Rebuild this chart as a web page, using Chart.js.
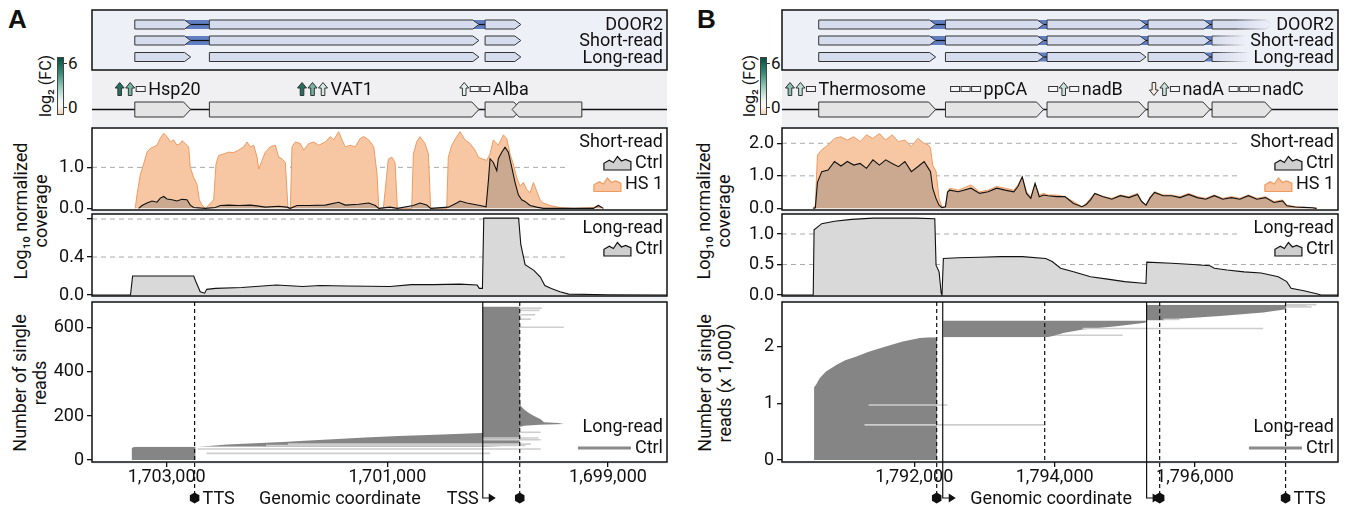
<!DOCTYPE html>
<html>
<head>
<meta charset="utf-8">
<title>Read coverage at two loci</title>
<script src="https://cdn.jsdelivr.net/npm/chart.js@4.4.1/dist/chart.umd.min.js"></script>
<style>
  body { margin: 0; background: #fff; }
  #fig { position: relative; width: 1350px; height: 510px; overflow: hidden; font-family: Roboto, "Liberation Sans", sans-serif; color: #111; }
  #fig canvas { position: absolute; }
  .letter { position: absolute; font: bold 26px "Liberation Sans", Arial, sans-serif; }
  .vt { position: absolute; width: 200px; height: 40px; transform: rotate(-90deg); text-align: center; font-size: 18px; line-height: 20px; white-space: nowrap; }
  .bg { position: absolute; top: 124px; height: 340px; background: #eef0f4; }
  .cbar { position: absolute; top: 57px; width: 7px; height: 58px; border: 1px solid #444; box-sizing: border-box; }
  .ct { position: absolute; font-size: 17px; line-height: 17px; }
  .tk { position: absolute; width: 3px; height: 1px; background: #333; }
  .cl { position: absolute; width: 80px; height: 20px; top: 76px; transform: rotate(-90deg); text-align: center; font-size: 16px; line-height: 20px; }
</style>
</head>
<body>
<div id="fig">
  <div class="bg" style="left:92px;width:575px"></div>
  <div class="bg" style="left:782px;width:556px"></div>

  <div class="letter" style="left:8px;top:4px">A</div>
  <div class="letter" style="left:697px;top:4px">B</div>

  <div class="cl" style="left:6px">log₂ (FC)</div>
  <div class="cbar" style="left:57px"></div>
  <div class="tk" style="left:64px;top:63px"></div>
  <div class="tk" style="left:64px;top:107px"></div>
  <div class="ct" style="left:68px;top:55px">6</div>
  <div class="ct" style="left:68px;top:99px">0</div>

  <div class="cl" style="left:710px">log₂ (FC)</div>
  <div class="cbar" style="left:760px"></div>
  <div class="tk" style="left:767px;top:63px"></div>
  <div class="tk" style="left:767px;top:107px"></div>
  <div class="ct" style="left:771px;top:55px">6</div>
  <div class="ct" style="left:771px;top:99px">0</div>

  <div class="vt" style="left:-69px;top:191px">Log₁₀ normalized<br>coverage</div>
  <div class="vt" style="left:-70px;top:363px">Number of single<br>reads</div>
  <div class="vt" style="left:614px;top:191px">Log₁₀ normalized<br>coverage</div>
  <div class="vt" style="left:615px;top:363px">Number of single<br>reads (x 1,000)</div>

  <canvas id="aAnn" width="680" height="128" style="left:0;top:0"></canvas>
  <canvas id="aShort" width="680" height="106" style="left:0;top:118px"></canvas>
  <canvas id="aLong" width="680" height="104" style="left:0;top:204px"></canvas>
  <canvas id="aReads" width="680" height="218" style="left:0;top:292px"></canvas>

  <canvas id="bAnn" width="670" height="128" style="left:680px;top:0"></canvas>
  <canvas id="bShort" width="670" height="106" style="left:680px;top:118px"></canvas>
  <canvas id="bLong" width="670" height="104" style="left:680px;top:204px"></canvas>
  <canvas id="bReads" width="670" height="218" style="left:680px;top:292px"></canvas>
</div>

<script>
// ---------- panel A (axis runs right to left), coordinates in kb ----------
const aRange = [1703.677, 1698.465];
const aXTicks = [1703, 1701, 1699];
const aShortTicks = [0, 1];
const aLongTicks = [0, 0.4, 0.8];
const aReadTicks = [0, 200, 400, 600];

const aGeneStart = [1703.289, 1702.613, 1700.114, 1699.237];
const aGeneEnd = [1702.783, 1700.170, 1699.790, 1699.869];
const aRowNames = ['DOOR2', 'Short-read', 'Long-read'];
const aRowGenes = [[0, 1, 2], [0, 1, 2], [0, 1, 2]];
const aRowLinks = [[[0, 1], [1, 2]], [[0, 1]], []];
const aLabels = ['Hsp20', 'VAT1', 'Alba'];
const aLabelAt = [1703.467, 1701.814, 1700.344];
const aFC = [[5.6, 3.4, null], [5.6, 3.4, 1.4], [1.0, null, null]];

const aShortHSX = [1703.285, 1703.269, 1703.239, 1703.209, 1703.179, 1703.149, 1703.118, 1703.088, 1703.058, 1703.027,
  1702.997, 1702.967, 1702.937, 1702.907, 1702.877, 1702.861, 1702.831, 1702.801, 1702.786, 1702.755,
  1702.725, 1702.704, 1702.680, 1702.650, 1702.619, 1702.574, 1702.553, 1702.529, 1702.483, 1702.438,
  1702.393, 1702.347, 1702.302, 1702.272, 1702.242, 1702.211, 1702.181, 1702.166, 1702.136, 1702.106,
  1702.061, 1702.015, 1701.985, 1701.955, 1701.925, 1701.900, 1701.879, 1701.864, 1701.834, 1701.789,
  1701.758, 1701.713, 1701.667, 1701.622, 1701.562, 1701.517, 1701.486, 1701.441, 1701.411, 1701.381,
  1701.335, 1701.290, 1701.245, 1701.214, 1701.169, 1701.123, 1701.093, 1701.078, 1701.036, 1700.991,
  1700.960, 1700.930, 1700.909, 1700.779, 1700.764, 1700.734, 1700.704, 1700.658, 1700.628, 1700.607,
  1700.462, 1700.447, 1700.416, 1700.371, 1700.341, 1700.296, 1700.250, 1700.205, 1700.175, 1700.144,
  1700.099, 1700.069, 1700.039, 1699.994, 1699.948, 1699.918, 1699.888, 1699.858, 1699.827, 1699.797,
  1699.767, 1699.736, 1699.706, 1699.676, 1699.646, 1699.616, 1699.586, 1699.525, 1699.434, 1699.314,
  1699.132, 1699.087, 1699.042];
const aShortHS = [0, 0.33, 0.83, 1.08, 1.37, 1.46, 1.5, 1.54, 1.71, 1.83,
  1.75, 1.62, 1.67, 1.54, 1.58, 1.65, 1.58, 1.5, 1.0, 0.75,
  0.58, 0.21, 0.08, 0, 0.08, 0.21, 1.08, 1.29, 1.33, 1.37,
  1.36, 1.42, 1.5, 1.62, 1.5, 1.54, 1.25, 0.96, 1.17, 1.37,
  1.5, 1.54, 1.25, 1.21, 1.12, 0, 0, 1.5, 1.62, 1.58,
  1.42, 1.58, 1.62, 1.54, 1.62, 1.75, 1.67, 1.87, 1.67, 1.5,
  1.54, 1.5, 1.71, 1.75, 1.67, 1.5, 0.83, 0, 0, 1.2,
  1.25, 1.12, 0, 0, 1.33, 1.62, 1.75, 1.58, 1.33, 0,
  0, 1.25, 1.54, 1.75, 1.87, 1.67, 1.58, 1.42, 1.25, 1.21,
  1.17, 1.33, 1.67, 1.54, 1.79, 1.71, 1.33, 1.08, 0.75, 0.54,
  0.63, 0.46, 0.38, 0.63, 0.42, 0.21, 0.13, 0.07, 0.02, 0,
  0.02, 0.08, 0];
const aShortCtrlX = [1703.254, 1703.224, 1703.179, 1703.133, 1703.088, 1703.058, 1703.027, 1702.997, 1702.952, 1702.907,
  1702.861, 1702.816, 1702.786, 1702.755, 1702.650, 1702.559, 1702.514, 1702.438, 1702.347, 1702.242,
  1702.181, 1702.106, 1701.985, 1701.909, 1701.879, 1701.819, 1701.713, 1701.562, 1701.441, 1701.381,
  1701.259, 1701.169, 1701.109, 1701.078, 1700.976, 1700.909, 1700.764, 1700.704, 1700.643, 1700.607,
  1700.447, 1700.371, 1700.341, 1700.280, 1700.220, 1700.160, 1700.105, 1700.084, 1700.069, 1700.039,
  1700.008, 1699.994, 1699.963, 1699.933, 1699.903, 1699.872, 1699.842, 1699.812, 1699.782, 1699.752,
  1699.706, 1699.646, 1699.586, 1699.132, 1699.087, 1699.042];
const aShortCtrl = [0, 0.07, 0.13, 0.18, 0.15, 0.25, 0.29, 0.23, 0.21, 0.18,
  0.22, 0.21, 0.08, 0.02, 0, 0.02, 0.07, 0.08, 0.07, 0.08,
  0.06, 0.03, 0.05, 0.03, 0, 0.07, 0.07, 0.08, 0.15, 0.08,
  0.1, 0.13, 0.07, 0, 0.03, 0, 0.07, 0.13, 0.08, 0,
  0.03, 0.13, 0.18, 0.13, 0.1, 0.07, 0.04, 0.67, 1.21, 1.12,
  0.92, 1.21, 1.37, 1.49, 1.37, 1.0, 0.63, 0.33, 0.21, 0.17,
  0.07, 0.03, 0, 0, 0.07, 0];

const aLongX = [1703.684, 1703.328, 1703.309, 1703.230, 1702.953, 1702.755, 1702.735, 1702.696, 1702.656, 1702.637,
  1702.557, 1702.320, 1702.004, 1701.767, 1701.609, 1701.372, 1700.976, 1700.779, 1700.581, 1700.344,
  1700.186, 1700.166, 1700.138, 1700.126, 1699.810, 1699.790, 1699.751, 1699.672, 1699.613, 1699.573,
  1699.514, 1699.435, 1699.356, 1699.000, 1698.465];
const aLongCtrl = [0, 0, 0.2, 0.2, 0.2, 0.2, 0.14, 0.035, 0.02, 0.06,
  0.07, 0.08, 0.105, 0.09, 0.1, 0.095, 0.09, 0.11, 0.11, 0.115,
  0.105, 0.07, 0.07, 0.81, 0.81, 0.53, 0.32, 0.26, 0.19, 0.1,
  0.07, 0.035, 0.01, 0.003, 0];

// single reads, grouped in blocks: read index -> first and last base (kb)
const aBlockReads = [
  [0, 55, 60],
  [60, 64, 70, 76, 82, 88, 95, 102, 109, 116, 123],
  [123, 150, 156, 160, 164, 168, 172, 185, 200, 215, 230, 245, 300, 697]
];
const aBlockFrom = [
  [1703.316, 1703.316, 1703.29],
  [1702.72, 1702.62, 1702.45, 1702.2, 1701.95, 1701.75, 1701.45, 1701.2, 1700.9, 1700.5, 1700.14],
  [1700.135, 1700.135, 1700.135, 1700.135, 1700.135, 1700.135, 1700.135, 1700.135, 1700.135, 1700.135, 1700.135, 1700.135, 1700.135, 1700.135]
];
const aBlockTo = [
  [1702.74, 1702.74, 1702.74],
  [1700.1, 1699.95, 1699.85, 1699.8, 1699.8, 1699.8, 1699.8, 1699.8, 1699.8, 1699.8, 1699.8],
  [1699.80, 1699.80, 1699.76, 1699.62, 1699.40, 1699.45, 1699.58, 1699.61, 1699.67, 1699.72, 1699.76, 1699.79, 1699.80, 1699.80]
];
const aLightRead = [30, 50, 66, 72, 92, 100, 126, 603, 640, 660, 680, 690];
const aLightFrom = [1702.64, 1702.72, 1702.1, 1701.9, 1700.14, 1700.14, 1699.8, 1699.8, 1699.8, 1699.8, 1699.8, 1699.8];
const aLightTo = [1700.07, 1699.61, 1699.75, 1699.7, 1699.61, 1699.63, 1699.61, 1699.40, 1699.70, 1699.66, 1699.62, 1699.60];

const aDashed = [1702.747, 1699.80];
const aDashedMark = [true, true];
const aTSS = [1700.135];
const aHex = [1702.747, 1699.80];
const aTexts = [['TTS', 1702.747, 'left'], ['Genomic coordinate', 1701.43, 'center'], ['TSS', 1700.135, 'right']];

// ---------- panel B, coordinates in kb ----------
const bRange = [1790.115, 1798.037];
const bXTicks = [1792, 1794, 1796];
const bShortTicks = [0, 1, 2];
const bLongTicks = [0, 0.5, 1];
const bReadTicks = [0, 1, 2];

const bGeneStart = [1790.638, 1792.444, 1793.891, 1795.331, 1796.243];
const bGeneEnd = [1792.304, 1793.842, 1795.301, 1796.213, 1797.094];
const bRowNames = ['DOOR2', 'Short-read', 'Long-read'];
const bRowGenes = [[0, 1, 2, 3, 4], [0, 1, 2, 3, 4], [0, 1, 2, 3, 4]];
const bRowLinks = [[[0, 1], [1, 2], [2, 3], [3, 4]], [[0, 1], [1, 2], [2, 3], [3, 4]], [[1, 2], [3, 4]]];
const bLabels = ['Thermosome', 'ppCA', 'nadB', 'nadA', 'nadC'];
const bLabelAt = [1790.164, 1792.517, 1793.915, 1795.35, 1796.487];
const bFC = [[3.0, 1.8, null], [null, null, null], [null, 1.6, null], [-0.3, 1.6, null], [null, null, null]];

const bShortX = [1790.560, 1790.590, 1790.620, 1790.681, 1790.772, 1790.863, 1790.955, 1791.046, 1791.137, 1791.228,
  1791.319, 1791.411, 1791.502, 1791.593, 1791.684, 1791.775, 1791.866, 1791.958, 1792.049, 1792.140,
  1792.201, 1792.231, 1792.262, 1792.310, 1792.353, 1792.395, 1792.444, 1792.474, 1792.505, 1792.626,
  1792.809, 1792.930, 1793.052, 1793.173, 1793.295, 1793.417, 1793.477, 1793.538, 1793.599, 1793.660,
  1793.721, 1793.781, 1793.842, 1793.903, 1794.025, 1794.146, 1794.268, 1794.389, 1794.450, 1794.511,
  1794.572, 1794.693, 1794.815, 1794.936, 1795.058, 1795.180, 1795.240, 1795.301, 1795.362, 1795.423,
  1795.544, 1795.666, 1795.787, 1795.909, 1796.031, 1796.152, 1796.274, 1796.396, 1796.517, 1796.639,
  1796.760, 1796.882, 1797.004, 1797.125, 1797.247, 1797.308, 1797.429, 1797.551, 1797.672, 1797.733];
const bShortHS = [0, 0.1, 1.64, 1.8, 1.95, 2.15, 2.2, 2.1, 2.2, 2.05,
  2.26, 2.15, 2.3, 2.1, 2.26, 2.05, 2.1, 1.9, 2.15, 2.0,
  1.95, 1.85, 1.33, 1.13, 0.3, 0.05, 0.05, 0.5, 0.62, 0.56,
  0.72, 0.51, 0.56, 0.67, 0.62, 0.56, 0.72, 0.97, 0.51, 0.36,
  0.77, 0.41, 0.46, 0.41, 0.41, 0.36, 0.21, 0.05, 0.15, 0.31,
  0.46, 0.36, 0.31, 0.41, 0.36, 0.46, 0.21, 0.1, 0.36, 0.51,
  0.41, 0.41, 0.36, 0.46, 0.36, 0.31, 0.41, 0.31, 0.36, 0.31,
  0.41, 0.31, 0.36, 0.21, 0.26, 0.1, 0.05, 0.03, 0.02, 0];
const bShortCtrl = [0, 0.02, 0.8, 1.13, 1.18, 1.44, 1.3, 1.44, 1.33, 1.38,
  1.23, 1.49, 1.33, 1.49, 1.38, 1.28, 1.44, 1.13, 1.28, 1.44,
  1.23, 1.13, 0.62, 0.3, 0.1, 0.02, 0.05, 0.5, 0.56, 0.51,
  0.62, 0.46, 0.51, 0.62, 0.56, 0.51, 0.67, 0.97, 0.46, 0.31,
  0.77, 0.36, 0.41, 0.39, 0.36, 0.36, 0.15, 0.05, 0.12, 0.26,
  0.46, 0.36, 0.28, 0.39, 0.33, 0.43, 0.21, 0.1, 0.33, 0.49,
  0.39, 0.39, 0.33, 0.43, 0.33, 0.28, 0.39, 0.28, 0.33, 0.28,
  0.39, 0.28, 0.33, 0.18, 0.23, 0.08, 0.04, 0.03, 0.02, 0];

const bLongX = [1790.115, 1790.560, 1790.572, 1790.681, 1790.863, 1791.107, 1791.411, 1791.715, 1792.018, 1792.292,
  1792.310, 1792.353, 1792.383, 1792.395, 1792.414, 1792.626, 1792.930, 1793.234, 1793.538, 1793.872,
  1793.964, 1794.085, 1794.268, 1794.511, 1794.754, 1794.997, 1795.301, 1795.313, 1795.666, 1795.970,
  1796.213, 1796.274, 1796.456, 1796.699, 1796.942, 1797.185, 1797.307, 1797.368, 1797.551, 1797.733,
  1797.793, 1798.037];
const bLongCtrl = [0, 0, 1.07, 1.17, 1.21, 1.24, 1.26, 1.26, 1.26, 1.25,
  0.49, 0.38, 0.03, 0, 0.6, 0.61, 0.62, 0.63, 0.63, 0.6,
  0.55, 0.44, 0.38, 0.3, 0.26, 0.22, 0.19, 0.54, 0.52, 0.5,
  0.48, 0.44, 0.41, 0.38, 0.36, 0.3, 0.22, 0.11, 0.07, 0.02,
  0, 0];

// reads in thousands
const bBlockReads = [
  [0, 1.29, 1.32, 1.44, 1.56, 1.68, 1.76, 1.82, 1.91, 2.0, 2.09, 2.15, 2.164],
  [2.164, 2.2, 2.24, 2.3, 2.36, 2.42, 2.46],
  [2.46, 2.48, 2.54, 2.6, 2.66, 2.72, 2.74]
];
const bBlockFrom = [
  [1790.572, 1790.572, 1790.596, 1790.651, 1790.742, 1790.894, 1791.016, 1791.167, 1791.350, 1791.593, 1791.836, 1792.079, 1792.2],
  [1792.413, 1792.413, 1792.413, 1792.413, 1792.413, 1792.413, 1792.413],
  [1795.31, 1795.31, 1795.31, 1795.31, 1795.31, 1795.31, 1795.31]
];
const bBlockTo = [
  [1792.322, 1792.322, 1792.322, 1792.322, 1792.322, 1792.322, 1792.322, 1792.322, 1792.322, 1792.322, 1792.322, 1792.322, 1792.322],
  [1793.886, 1794.03, 1794.12, 1794.40, 1794.88, 1795.29, 1795.31],
  [1795.55, 1795.6, 1796.36, 1796.97, 1797.30, 1797.30, 1797.30]
];
const bLightRead = [0.62, 0.97, 2.2, 2.32, 2.48, 2.7, 2.72, 2.74];
const bLightFrom = [1791.29, 1791.35, 1794.03, 1794.4, 1795.55, 1797.3, 1797.3, 1797.3];
const bLightTo = [1793.87, 1792.47, 1794.97, 1796.97, 1795.78, 1797.66, 1797.59, 1797.73];

const bDashed = [1792.319, 1793.858, 1795.496, 1797.29];
const bDashedMark = [true, false, true, true];
const bTSS = [1792.405, 1795.31];
const bHex = [1792.319, 1795.496, 1797.29];
const bTexts = [['Genomic coordinate', 1793.95, 'center'], ['TTS', 1797.29, 'left']];

// log2 fold-change colour scale
const fcStops = [[-1.1, [243, 209, 178]], [0, [251, 247, 242]], [0.8, [238, 246, 243]], [2.6, [156, 205, 190]], [4.6, [60, 140, 120]], [6.8, [6, 80, 66]]];

// ---------- helpers ----------
const FONT = 'Roboto, "Liberation Sans", sans-serif';
Chart.defaults.font.family = FONT;
Chart.defaults.font.size = 18;
Chart.defaults.color = '#111';

function pts(xs, ys) {
  return xs.map((x, i) => ({x: x, y: ys[i]}));
}

function fcColor(v) {
  for (let i = 1; i < fcStops.length; i++) {
    const [v0, c0] = fcStops[i - 1], [v1, c1] = fcStops[i];
    if (v <= v1 || i === fcStops.length - 1) {
      const t = Math.max(0, Math.min(1, (v - v0) / (v1 - v0)));
      return 'rgb(' + c0.map((c, k) => Math.round(c + (c1[k] - c) * t)).join(',') + ')';
    }
  }
}

document.querySelectorAll('.cbar').forEach(el => {
  el.style.background = 'linear-gradient(to bottom,' + fcStops.slice().reverse()
    .map(([v, c]) => 'rgb(' + c.join(',') + ') ' + ((6.8 - v) / 7.9 * 100).toFixed(1) + '%').join(',') + ')';
});

function arrow(ctx, x0, x1, yc, h, tip, fill) {
  const dir = x1 > x0 ? 1 : -1;
  const t = Math.min(tip, Math.abs(x1 - x0) * 0.5);
  const xb = x1 - dir * t;
  ctx.beginPath();
  ctx.moveTo(x0, yc - h / 2);
  ctx.lineTo(xb, yc - h / 2);
  ctx.lineTo(x1, yc);
  ctx.lineTo(xb, yc + h / 2);
  ctx.lineTo(x0, yc + h / 2);
  ctx.closePath();
  ctx.fillStyle = fill;
  ctx.fill();
  ctx.lineWidth = 1;
  ctx.strokeStyle = '#333';
  ctx.stroke();
}

function fcIcon(ctx, cx, cy, v) {
  ctx.lineWidth = 1;
  ctx.strokeStyle = '#333';
  if (v == null) {
    ctx.fillStyle = '#f6f6f8';
    ctx.fillRect(cx - 4.5, cy - 2.5, 9, 5);
    ctx.strokeRect(cx - 4.5, cy - 2.5, 9, 5);
    return;
  }
  const d = v < 0 ? 1 : -1;
  ctx.beginPath();
  ctx.moveTo(cx, cy + d * 6.5);
  ctx.lineTo(cx + 4.5, cy + d * 1);
  ctx.lineTo(cx + 1.8, cy + d * 1);
  ctx.lineTo(cx + 1.8, cy - d * 6.5);
  ctx.lineTo(cx - 1.8, cy - d * 6.5);
  ctx.lineTo(cx - 1.8, cy + d * 1);
  ctx.lineTo(cx - 4.5, cy + d * 1);
  ctx.closePath();
  ctx.fillStyle = fcColor(v);
  ctx.fill();
  ctx.stroke();
}

function mountain(ctx, x, y, w, h, fill, stroke) {
  const shape = [[0, 1], [0, 0.55], [0.2, 0.35], [0.35, 0.5], [0.5, 0.1], [0.65, 0.4], [0.8, 0.3], [1, 0.45], [1, 1]];
  ctx.beginPath();
  shape.forEach(([u, v], i) => (i ? ctx.lineTo : ctx.moveTo).call(ctx, x + u * w, y + v * h));
  ctx.closePath();
  ctx.fillStyle = fill;
  ctx.fill();
  ctx.lineWidth = 1.2;
  ctx.strokeStyle = stroke;
  ctx.stroke();
}

function hexagon(ctx, cx, cy, r) {
  ctx.beginPath();
  for (let k = 0; k < 6; k++) {
    const a = Math.PI / 2 + k * Math.PI / 3;
    ctx.lineTo(cx + r * Math.cos(a), cy + r * Math.sin(a));
  }
  ctx.closePath();
  ctx.fill();
}

// ---------- plugins ----------
const framePlugin = {
  id: 'frame',
  beforeDraw(chart) {
    const {ctx, chartArea: a} = chart;
    ctx.save();
    ctx.fillStyle = '#fff';
    ctx.fillRect(a.left, a.top, a.width, a.height);
    ctx.restore();
  },
  afterDraw(chart) {
    const {ctx, chartArea: a} = chart;
    ctx.save();
    ctx.lineWidth = 1.5;
    ctx.strokeStyle = '#111';
    ctx.strokeRect(a.left, a.top, a.width, a.height);
    ctx.restore();
  }
};

const gridPlugin = {
  id: 'dashGrid',
  beforeDatasetsDraw(chart, args, o) {
    const {ctx, chartArea: a, scales: {y}} = chart;
    const full = o.full || [];
    ctx.save();
    ctx.setLineDash([5, 4]);
    ctx.strokeStyle = '#aaa';
    ctx.lineWidth = 1;
    y.ticks.forEach(t => {
      if (t.value <= 0) return;
      const py = y.getPixelForValue(t.value);
      const end = full.some(f => Math.abs(f - t.value) < 1e-6) ? a.right : a.right - 100;
      ctx.beginPath();
      ctx.moveTo(a.left, py);
      ctx.lineTo(end, py);
      ctx.stroke();
    });
    ctx.restore();
  }
};

const legendPlugin = {
  id: 'covLegend',
  afterDraw(chart, args, o) {
    if (!o.title) return;
    const {ctx, chartArea: a} = chart;
    ctx.save();
    ctx.font = '18px ' + FONT;
    ctx.textAlign = 'right';
    ctx.textBaseline = 'middle';
    const rx = a.right - 4;
    const ty = o.bottom ? a.bottom - 35 : a.top + 14;
    ctx.fillStyle = '#111';
    ctx.fillText(o.title, rx, ty);
    o.items.forEach((it, k) => {
      const iy = ty + 21 + k * 21.5;
      ctx.fillStyle = '#111';
      ctx.fillText(it.label, rx, iy);
      const ix = rx - ctx.measureText(it.label).width - 4;
      if (it.line) {
        ctx.beginPath();
        ctx.moveTo(ix - 53, iy);
        ctx.lineTo(ix, iy);
        ctx.lineWidth = 3;
        ctx.strokeStyle = it.line;
        ctx.stroke();
      } else {
        mountain(ctx, ix - 27, iy - 8, 27, 15, it.fill, it.stroke);
      }
    });
    ctx.restore();
  }
};

const genePlugin = {
  id: 'genes',
  afterDraw(chart, args, o) {
    const {ctx, chartArea: a, scales: {x, y}} = chart;
    const X = v => x.getPixelForValue(v);
    const Y = v => y.getPixelForValue(v);
    ctx.save();
    ctx.fillStyle = '#f0f0f3';
    ctx.fillRect(a.left, Y(60), a.width, Y(114) - Y(60));
    ctx.fillStyle = '#eef0f7';
    ctx.fillRect(a.left, Y(0), a.width, Y(60) - Y(0));

    const rowY = [14.5, 30.5, 47];
    o.rowGenes.forEach((genes, r) => {
      const yc = Y(rowY[r]);
      o.rowLinks[r].forEach(([i, j]) => {
        const x0 = X(o.end[i]), x1 = X(o.start[j]);
        const xb = x0 - Math.sign(x0 - X(o.start[i])) * 6;
        ctx.fillStyle = 'rgba(72,106,184,0.85)';
        ctx.fillRect(Math.min(xb, x1), yc - 4.5, Math.abs(x1 - xb), 9);
        ctx.beginPath();
        ctx.moveTo(x0, yc);
        ctx.lineTo(x1, yc);
        ctx.lineWidth = 1.2;
        ctx.strokeStyle = '#111';
        ctx.stroke();
      });
      genes.forEach(i => arrow(ctx, X(o.start[i]), X(o.end[i]), yc, 9, 6, '#d5dcee'));
    });

    // row names, fading the track out behind them
    ctx.font = '18px ' + FONT;
    ctx.textAlign = 'right';
    ctx.textBaseline = 'middle';
    o.rowNames.forEach((name, r) => {
      const yc = Y(rowY[r]);
      const tl = a.right - 4 - ctx.measureText(name).width;
      const g = ctx.createLinearGradient(tl - 42, 0, tl - 4, 0);
      g.addColorStop(0, 'rgba(238,240,247,0)');
      g.addColorStop(1, 'rgba(238,240,247,1)');
      ctx.fillStyle = g;
      ctx.fillRect(tl - 42, yc - 7, a.right - tl + 41, 14);
      ctx.fillStyle = '#111';
      ctx.fillText(name, a.right - 4, yc + 1);
    });
    ctx.lineWidth = 1.5;
    ctx.strokeStyle = '#111';
    ctx.strokeRect(a.left, Y(0), a.width, Y(60) - Y(0));

    // gene row
    const gy = Y(99.5);
    ctx.beginPath();
    ctx.moveTo(a.left, gy);
    ctx.lineTo(a.right, gy);
    ctx.lineWidth = 1.5;
    ctx.strokeStyle = '#111';
    ctx.stroke();
    o.start.forEach((s, i) => arrow(ctx, X(s), X(o.end[i]), gy, 15, 7, '#e4e4e4'));

    const ly = Y(79);
    ctx.textAlign = 'left';
    o.labels.forEach((name, i) => {
      const px = X(o.labelAt[i]);
      o.fc[i].forEach((v, k) => fcIcon(ctx, px + 4.5 + k * 10.5, ly, v));
      ctx.fillStyle = '#111';
      ctx.fillText(name, px + 33, ly + 1);
    });
    ctx.restore();
  }
};

const marksPlugin = {
  id: 'marks',
  afterDatasetsDraw(chart, args, o) {
    const {ctx, chartArea: a, scales: {x}} = chart;
    const X = v => x.getPixelForValue(v);
    const ym = a.bottom + 36;
    ctx.save();
    ctx.strokeStyle = '#111';
    ctx.fillStyle = '#111';
    ctx.lineWidth = 1.2;
    ctx.setLineDash([4, 3]);
    o.dashed.forEach((v, i) => {
      const px = X(v);
      ctx.beginPath();
      ctx.moveTo(px, a.top);
      ctx.lineTo(px, o.dashedMark[i] ? ym : a.bottom);
      ctx.stroke();
    });
    ctx.setLineDash([]);
    o.tss.forEach(v => {
      const px = X(v);
      ctx.beginPath();
      ctx.moveTo(px, a.top);
      ctx.lineTo(px, ym);
      ctx.lineTo(px + 7, ym);
      ctx.stroke();
      ctx.beginPath();
      ctx.moveTo(px + 6, ym - 4.5);
      ctx.lineTo(px + 13, ym);
      ctx.lineTo(px + 6, ym + 4.5);
      ctx.closePath();
      ctx.fill();
    });
    o.hex.forEach(v => hexagon(ctx, X(v), ym, 5.5));
    ctx.font = '18px ' + FONT;
    ctx.textBaseline = 'middle';
    o.texts.forEach(([t, v, align]) => {
      ctx.textAlign = align;
      const px = X(v) + (align === 'left' ? 8 : align === 'right' ? -4 : 0);
      ctx.fillText(t, px, ym + 1);
    });
    ctx.restore();
  }
};

// ---------- chart builders ----------
function xScale(p, show) {
  const s = {
    type: 'linear', display: show, reverse: p.reverse,
    min: Math.min(p.range[0], p.range[1]), max: Math.max(p.range[0], p.range[1]),
    afterBuildTicks: sc => { sc.ticks = p.xTicks.map(v => ({value: v})); },
    grid: {drawOnChartArea: false, drawTicks: true, tickLength: 5, color: '#111', lineWidth: 1.3},
    border: {display: false},
    ticks: {callback: v => Math.round(v * 1000).toLocaleString('en-US'), padding: 0, maxRotation: 0, autoSkip: false}
  };
  if (show) s.afterFit = sc => { sc.height = 48; sc.paddingLeft = 0; sc.paddingRight = 0; };
  return s;
}

function yScale(p, min, max, ticks, fmt) {
  return {
    type: 'linear', min: min, max: max,
    afterBuildTicks: sc => { sc.ticks = ticks.map(v => ({value: v})); },
    afterFit: sc => { sc.width = p.axisW; sc.paddingTop = 0; sc.paddingBottom = 0; },
    grid: {drawOnChartArea: false, drawTicks: true, tickLength: 5, color: '#111', lineWidth: 1.3},
    border: {display: false},
    ticks: {callback: fmt, padding: 3}
  };
}

const baseOpts = {responsive: false, animation: false, events: []};

function annChart(id, p, genes) {
  return new Chart(document.getElementById(id), {
    type: 'line',
    data: {datasets: []},
    options: Object.assign({}, baseOpts, {
      layout: {padding: {left: p.axisW, right: p.padR, top: 10, bottom: 4}},
      scales: {
        x: xScale(p, false),
        y: {type: 'linear', display: false, min: 0, max: 114, reverse: true}
      },
      plugins: {legend: {display: false}, tooltip: {enabled: false}, genes: genes}
    }),
    plugins: [genePlugin]
  });
}

function covChart(id, p, pad, sets, yr, ticks, fmt, legend, full) {
  return new Chart(document.getElementById(id), {
    type: 'line',
    data: {datasets: sets},
    options: Object.assign({}, baseOpts, {
      layout: {padding: {left: 0, right: p.padR, top: pad[0], bottom: pad[1]}},
      scales: {x: xScale(p, false), y: yScale(p, yr[0], yr[1], ticks, fmt)},
      plugins: {legend: {display: false}, tooltip: {enabled: false}, covLegend: legend, dashGrid: {full: full}}
    }),
    plugins: [framePlugin, gridPlugin, legendPlugin]
  });
}

function readsChart(id, p, yr, ticks, fmt, blocks, lights, marks) {
  const sets = lights[0].map((r, i) => ({
    data: [{x: lights[1][i], y: r}, {x: lights[2][i], y: r}],
    borderColor: '#cdcdcd', borderWidth: 1.6, pointRadius: 0, fill: false
  }));
  blocks[0].forEach((rs, b) => {
    sets.push({data: pts(blocks[1][b], rs), borderWidth: 0, pointRadius: 0, fill: false, backgroundColor: '#858585'});
    sets.push({data: pts(blocks[2][b], rs), borderWidth: 0, pointRadius: 0, fill: '-1', backgroundColor: '#858585'});
  });
  return new Chart(document.getElementById(id), {
    type: 'line',
    data: {datasets: sets},
    options: Object.assign({}, baseOpts, {
      indexAxis: 'y',
      layout: {padding: {left: 0, right: p.padR, top: 10, bottom: 0}},
      scales: {x: xScale(p, true), y: yScale(p, yr[0], yr[1], ticks, fmt)},
      plugins: {
        legend: {display: false}, tooltip: {enabled: false},
        covLegend: {title: 'Long-read', bottom: true, items: [{label: 'Ctrl', line: '#8a8a8a'}]},
        marks: marks
      }
    }),
    plugins: [framePlugin, legendPlugin, marksPlugin]
  });
}

const ctrlStyle = {borderColor: '#111', borderWidth: 1.1, backgroundColor: 'rgba(100,100,100,0.3)', fill: 'origin', pointRadius: 0};
const hsStyle = {borderColor: '#ee9b63', borderWidth: 1, backgroundColor: '#f7c7a4', fill: 'origin', pointRadius: 0};
const longStyle = {borderColor: '#111', borderWidth: 1.1, backgroundColor: '#d9d9d9', fill: 'origin', pointRadius: 0};

const shortLegend = {title: 'Short-read', items: [
  {label: 'Ctrl', fill: '#cfcfcf', stroke: '#111'},
  {label: 'HS 1', fill: '#f6c4a0', stroke: '#f09a60'}
]};
const longLegend = {title: 'Long-read', items: [{label: 'Ctrl', fill: '#cfcfcf', stroke: '#111'}]};

const f1 = v => v.toFixed(1);

// ---------- panel A ----------
const pA = {range: aRange, reverse: true, xTicks: aXTicks, axisW: 92, padR: 13};
annChart('aAnn', pA, {start: aGeneStart, end: aGeneEnd, rowNames: aRowNames, rowGenes: aRowGenes,
  rowLinks: aRowLinks, labels: aLabels, labelAt: aLabelAt, fc: aFC});
covChart('aShort', pA, [10, 14], [
  Object.assign({data: pts(aShortCtrlX, aShortCtrl)}, ctrlStyle),
  Object.assign({data: pts(aShortHSX, aShortHS)}, hsStyle)
], [-0.04, 1.96], aShortTicks, f1, shortLegend, []);
covChart('aLong', pA, [10, 12], [
  Object.assign({data: pts(aLongX, aLongCtrl)}, longStyle)
], [-0.01, 0.853], aLongTicks, v => (v > 0.6 ? '' : v.toFixed(1)), longLegend, []);
readsChart('aReads', pA, [-9, 718], aReadTicks, v => String(v),
  [aBlockReads, aBlockFrom, aBlockTo], [aLightRead, aLightFrom, aLightTo],
  {dashed: aDashed, dashedMark: aDashedMark, tss: aTSS, hex: aHex, texts: aTexts});

// ---------- panel B ----------
const pB = {range: bRange, reverse: false, xTicks: bXTicks, axisW: 102, padR: 12};
annChart('bAnn', pB, {start: bGeneStart, end: bGeneEnd, rowNames: bRowNames, rowGenes: bRowGenes,
  rowLinks: bRowLinks, labels: bLabels, labelAt: bLabelAt, fc: bFC});
covChart('bShort', pB, [10, 14], [
  Object.assign({data: pts(bShortX, bShortCtrl)}, ctrlStyle),
  Object.assign({data: pts(bShortX, bShortHS)}, hsStyle)
], [-0.05, 2.47], bShortTicks, f1, shortLegend, []);
covChart('bLong', pB, [10, 12], [
  Object.assign({data: pts(bLongX, bLongCtrl)}, longStyle)
], [-0.016, 1.328], bLongTicks, f1, longLegend, [0.5]);
readsChart('bReads', pB, [-0.035, 2.787], bReadTicks, v => String(v),
  [bBlockReads, bBlockFrom, bBlockTo], [bLightRead, bLightFrom, bLightTo],
  {dashed: bDashed, dashedMark: bDashedMark, tss: bTSS, hex: bHex, texts: bTexts});
</script>
</body>
</html>
